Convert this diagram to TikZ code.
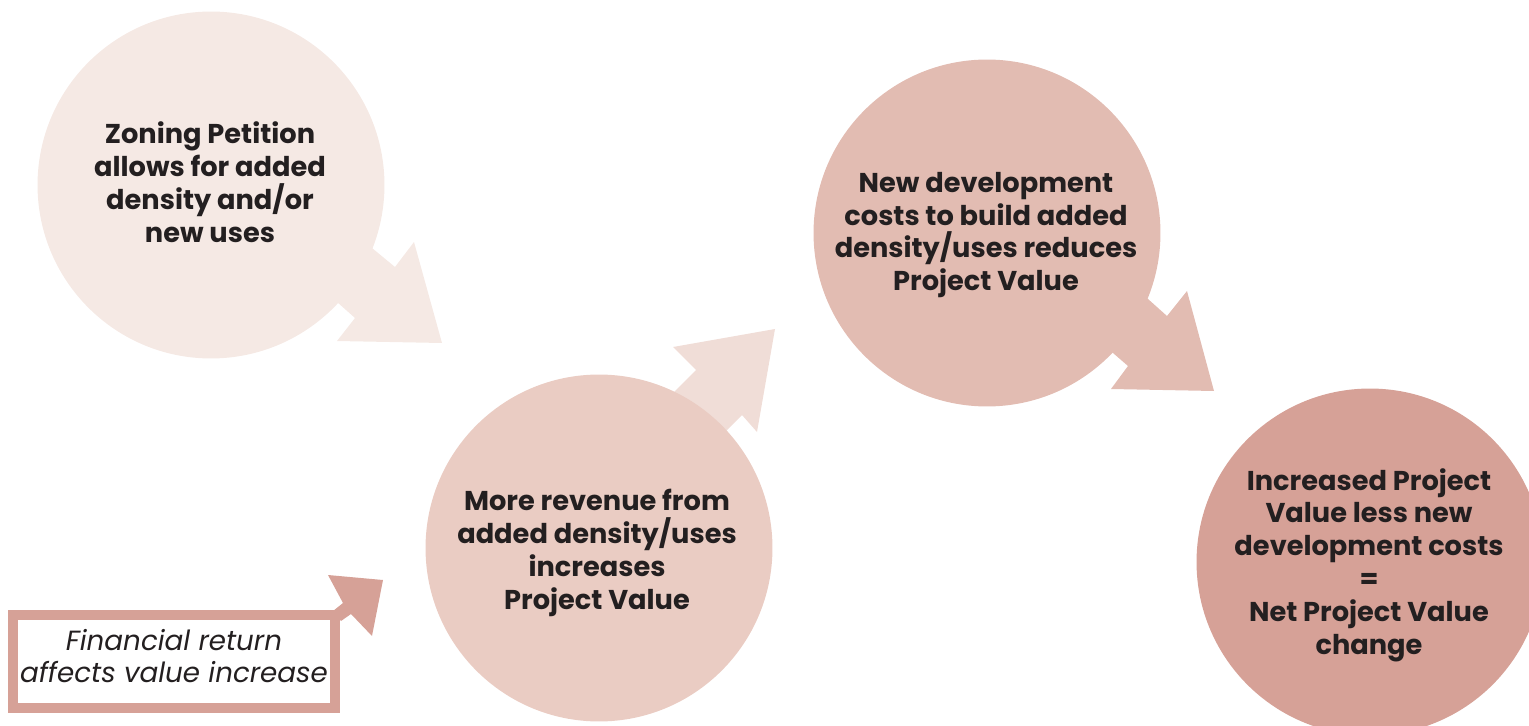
\documentclass[tikz,border=0pt]{standalone}
\usepackage{fontspec}
\setmainfont{Poppins}
\definecolor{ink}{HTML}{231F20}
\definecolor{tintA}{HTML}{F5E9E4}
\definecolor{tintB}{HTML}{F0DDD7}
\definecolor{tintC}{HTML}{EACCC3}
\definecolor{tintD}{HTML}{E2BCB2}
\definecolor{tintE}{HTML}{D6A197}
\begin{document}
\begin{tikzpicture}[x=0.02cm,y=-0.02cm,
  bubble/.style={circle, minimum size=6.94cm, inner sep=0pt, draw=none},
  bubbletext/.style={font=\bfseries\fontsize{15.5}{18.7}\selectfont, text=ink, align=center, inner sep=0pt},
  notetext/.style={font=\itshape\fontsize{15.8}{18.7}\selectfont, text=ink, align=center, inner sep=0pt}]
\useasboundingbox (0,0) rectangle (1529,726);
\clip (0,0) rectangle (1529,726);

% step 1: zoning petition and its arrow
\fill[tintA] (322,208) -- (372,248) -- (395,267) -- (414,242) -- (442,343)
  -- (337,341) -- (355,318) -- (337,302) -- (287,262) -- cycle;
\node[bubble, fill=tintA] (c1) at (211,185) {};
\node[bubbletext] (t1) at (210,182) {Zoning Petition\\allows for added\\density and/or\\new uses};

% step 2: revenue, arrow behind its circle
\fill[tintB] (636,430) -- (696,370) -- (673,347) -- (775,329) -- (757,432)
  -- (742,415) -- (682,475) -- cycle;
\node[bubble, fill=tintC] (c2) at (599,548) {};
\node[bubbletext] (t2) at (597,553) {More revenue from\\added density/uses\\increases\\Project Value};

% step 3: development costs and its arrow
\fill[tintD] (1103,259) -- (1148,299) -- (1167,316) -- (1187,291) -- (1214,391)
  -- (1111,389) -- (1128,366) -- (1113,353) -- (1068,313) -- cycle;
\node[bubble, fill=tintD] (c3) at (987,233) {};
\node[bubbletext] (t3) at (986,235) {New development\\costs to build added\\density/uses reduces\\Project Value};

% result
\node[bubble, fill=tintE] (c4) at (1370,562) {};
\node[bubbletext] (t4) at (1369,565) {Increased Project\\Value less new\\development costs\\=\\Net Project Value\\change};

% financial return note with its arrow
\fill[tintE] (333,611) -- (343,603) -- (328,575) -- (383,580) -- (372,636)
  -- (351,614) -- (341,621) -- cycle;
\node[draw=tintE, line width=0.2cm, fill=white, minimum width=6.44cm, minimum height=1.86cm, inner sep=0pt] (box) at (174,661.5) {};
\node[notetext] (nt) at (174,656) {Financial return\\affects value increase};
\end{tikzpicture}
\end{document}
